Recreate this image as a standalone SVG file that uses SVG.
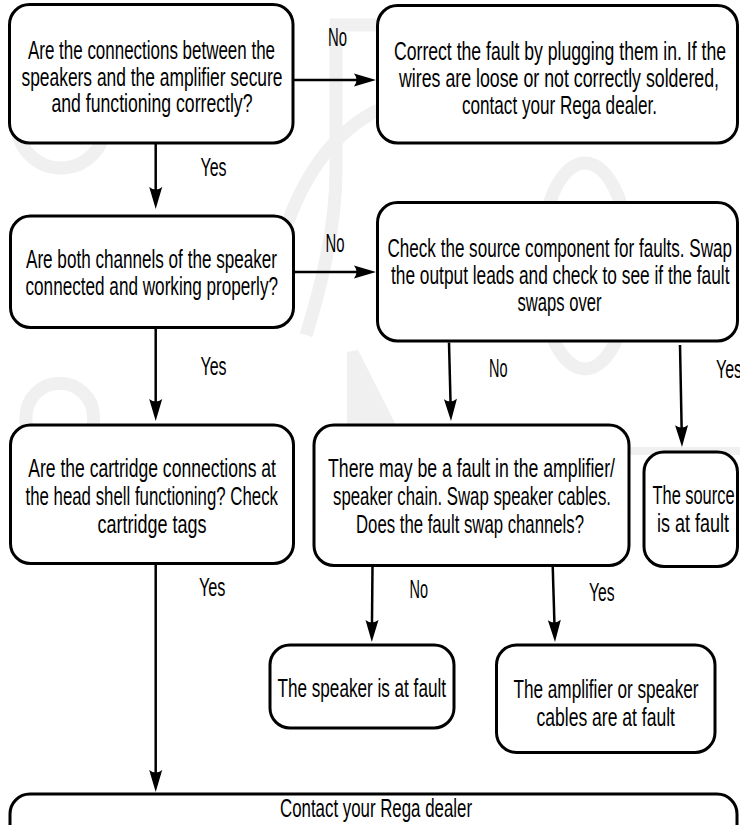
<svg xmlns="http://www.w3.org/2000/svg" width="740" height="825" viewBox="0 0 740 825">
  <style>
    .box { fill: #ffffff; stroke: #000000; stroke-width: 3; }
    .wire { fill: none; stroke: #000000; stroke-width: 2.5; marker-end: url(#head); }
    .t { font-family: "Liberation Sans", Arial, sans-serif; font-size: 26px; fill: #000000; }
    .mark { fill: none; stroke: #f0f0f0; stroke-width: 13; }
  </style>
  <defs>
    <marker id="head" markerUnits="userSpaceOnUse" markerWidth="40" markerHeight="40" refX="0" refY="0" orient="auto" overflow="visible" viewBox="-20 -20 40 40">
      <path d="M10 0 L-12 -6.5 Q-7 0 -12 6.5 Z" fill="#000000"/>
    </marker>
  </defs>

  <rect width="740" height="825" fill="#ffffff"/>

  <!-- faint background emblem -->
  <g id="emblem">
    <ellipse class="mark" cx="585" cy="266" rx="45" ry="103"/>
    <circle class="mark" cx="61" cy="124" r="44"/>
    <path class="mark" d="M26 560 V417 A33.5 33.5 0 0 1 93.5 417 V560"/>
    <path class="mark" d="M336 22 V170 Q336 240 306 335" stroke-width="12"/>
    <path class="mark" d="M330 25 H378" stroke-width="9"/>
    <path class="mark" d="M378 110 Q318 140 288 222" stroke-width="10"/>
    <path d="M600 451 H740" stroke="#f0f0f0" stroke-width="8"/>
    <path d="M347 352 L358 350 L396 425 L347 425 Z" fill="#f0f0f0"/>
  </g>

  <!-- connectors -->
  <g id="connectors">
    <line class="wire" x1="293" y1="80" x2="366" y2="80"/>
    <line class="wire" x1="293" y1="272" x2="366" y2="272"/>
    <line class="wire" x1="155.7" y1="143" x2="155.7" y2="199"/>
    <line class="wire" x1="155.7" y1="327.5" x2="155.7" y2="411"/>
    <line class="wire" x1="155.7" y1="563.5" x2="155.7" y2="782"/>
    <line class="wire" x1="449" y1="342.5" x2="450.75" y2="411"/>
    <line class="wire" x1="680" y1="345" x2="681.8" y2="437"/>
    <line class="wire" x1="372.5" y1="566" x2="371.9" y2="632"/>
    <line class="wire" x1="552.7" y1="566" x2="554.7" y2="632"/>

    <g id="labels" class="t">
      <text x="328" y="46" textLength="19" lengthAdjust="spacingAndGlyphs">No</text>
      <text x="200.5" y="176" textLength="26" lengthAdjust="spacingAndGlyphs">Yes</text>
      <text x="325.5" y="252" textLength="19" lengthAdjust="spacingAndGlyphs">No</text>
      <text x="200.5" y="375" textLength="26" lengthAdjust="spacingAndGlyphs">Yes</text>
      <text x="489" y="377" textLength="18.5" lengthAdjust="spacingAndGlyphs">No</text>
      <text x="716" y="378" textLength="26" lengthAdjust="spacingAndGlyphs">Yes</text>
      <text x="199" y="596" textLength="26.5" lengthAdjust="spacingAndGlyphs">Yes</text>
      <text x="409.5" y="598" textLength="18.5" lengthAdjust="spacingAndGlyphs">No</text>
      <text x="589" y="601" textLength="25.5" lengthAdjust="spacingAndGlyphs">Yes</text>
    </g>
  </g>

  <!-- nodes -->
  <g id="q-connections">
    <rect class="box" x="9.5" y="4.5" width="283.5" height="138.5" rx="20"/>
    <text class="t" x="28" y="59" textLength="247" lengthAdjust="spacingAndGlyphs">Are the connections between the</text>
    <text class="t" x="21.5" y="86" textLength="261" lengthAdjust="spacingAndGlyphs">speakers and the amplifier secure</text>
    <text class="t" x="51.5" y="112" textLength="201" lengthAdjust="spacingAndGlyphs">and functioning correctly?</text>
  </g>

  <g id="fix-connections">
    <rect class="box" x="377.5" y="5.5" width="360" height="137.5" rx="20"/>
    <text class="t" x="394" y="60" textLength="332" lengthAdjust="spacingAndGlyphs">Correct the fault by plugging them in.  If the</text>
    <text class="t" x="399" y="87" textLength="320" lengthAdjust="spacingAndGlyphs">wires are loose or not correctly soldered,</text>
    <text class="t" x="462" y="114" textLength="195" lengthAdjust="spacingAndGlyphs">contact your Rega dealer.</text>
  </g>

  <g id="q-channels">
    <rect class="box" x="10.5" y="216" width="283" height="111.5" rx="20"/>
    <text class="t" x="26" y="268" textLength="251" lengthAdjust="spacingAndGlyphs">Are both channels of the speaker</text>
    <text class="t" x="25.5" y="295" textLength="252.5" lengthAdjust="spacingAndGlyphs">connected and working properly?</text>
  </g>

  <g id="check-source">
    <rect class="box" x="377.5" y="202.5" width="360" height="138.5" rx="20"/>
    <text class="t" x="387.5" y="256.5" textLength="344.5" lengthAdjust="spacingAndGlyphs">Check the source component for faults. Swap</text>
    <text class="t" x="391" y="283.5" textLength="338.5" lengthAdjust="spacingAndGlyphs">the output leads and check to see if the fault</text>
    <text class="t" x="517.5" y="310.5" textLength="84" lengthAdjust="spacingAndGlyphs">swaps over</text>
  </g>

  <g id="q-cartridge">
    <rect class="box" x="10.5" y="425" width="283" height="138.5" rx="20"/>
    <text class="t" x="28.3" y="477" textLength="247.7" lengthAdjust="spacingAndGlyphs">Are the cartridge connections at</text>
    <text class="t" x="25.5" y="505" textLength="252.5" lengthAdjust="spacingAndGlyphs">the head shell functioning? Check</text>
    <text class="t" x="97.5" y="533" textLength="109" lengthAdjust="spacingAndGlyphs">cartridge tags</text>
  </g>

  <g id="q-amp-chain">
    <rect class="box" x="314" y="425" width="315" height="140.5" rx="20"/>
    <text class="t" x="328" y="477" textLength="287" lengthAdjust="spacingAndGlyphs">There may be a fault in the amplifier/</text>
    <text class="t" x="333" y="505" textLength="278" lengthAdjust="spacingAndGlyphs">speaker chain. Swap speaker cables.</text>
    <text class="t" x="356" y="533" textLength="228" lengthAdjust="spacingAndGlyphs">Does the fault swap channels?</text>
  </g>

  <g id="source-fault">
    <rect class="box" x="644" y="452" width="93.5" height="114.5" rx="20"/>
    <text class="t" x="652.5" y="503.5" textLength="82" lengthAdjust="spacingAndGlyphs">The source</text>
    <text class="t" x="657" y="532" textLength="72" lengthAdjust="spacingAndGlyphs">is at fault</text>
  </g>

  <g id="speaker-fault">
    <rect class="box" x="270" y="645" width="184" height="83" rx="20"/>
    <text class="t" x="277.5" y="696.5" textLength="168.5" lengthAdjust="spacingAndGlyphs">The speaker is at fault</text>
  </g>

  <g id="amp-cable-fault">
    <rect class="box" x="496.5" y="645" width="218.5" height="107.5" rx="20"/>
    <text class="t" x="513.5" y="698" textLength="185" lengthAdjust="spacingAndGlyphs">The amplifier or speaker</text>
    <text class="t" x="536.5" y="726" textLength="138.5" lengthAdjust="spacingAndGlyphs">cables are at fault</text>
  </g>

  <g id="contact-dealer">
    <rect class="box" x="10" y="794" width="727" height="60" rx="20"/>
    <text class="t" x="280" y="817" textLength="192" lengthAdjust="spacingAndGlyphs">Contact your Rega dealer</text>
  </g>
</svg>
